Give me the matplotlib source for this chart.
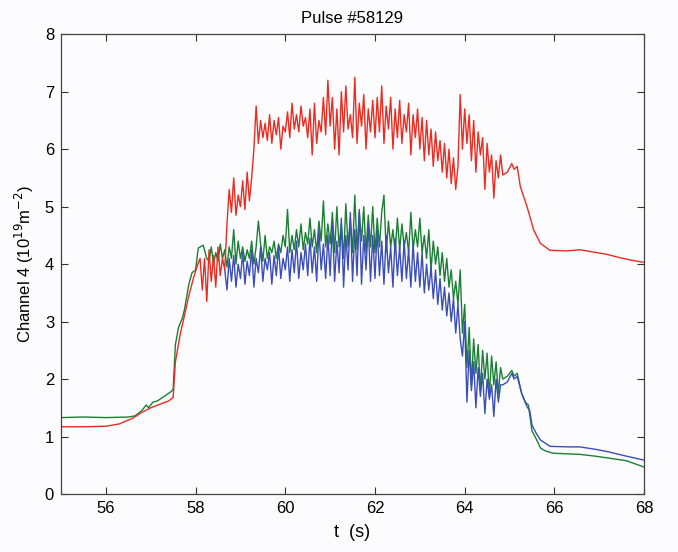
import numpy as np
import matplotlib
matplotlib.use('Agg')
import matplotlib.pyplot as plt

plt.rcParams['font.family'] = ['Liberation Sans', 'DejaVu Sans']

# red trace: smooth rise, noisy flat-top, smooth decay
red_t0 = [55.0, 55.5, 56.0, 56.3, 56.6, 56.8, 57.0, 57.2, 57.4, 57.5, 57.55, 57.65, 57.75, 57.85, 57.95, 58.05, 58.1]
red_y0 = [1.17, 1.17, 1.18, 1.22, 1.32, 1.42, 1.5, 1.56, 1.62, 1.68, 2.3, 2.75, 3.1, 3.45, 3.75, 4.0, 4.1]
red_noisy = [3.55, 4.1, 3.35, 4.25, 3.7, 4.15, 3.6, 4.3, 3.8, 4.1, 3.9,
             4.7, 5.3, 4.9, 5.5, 4.85, 5.2, 5.0, 5.45, 4.95, 5.6, 5.1, 5.5,
             6.0, 6.75, 6.1, 6.5, 6.2, 6.45, 6.15, 6.6, 6.1, 6.5, 6.25, 6.55, 6.0, 6.4,
             6.3, 6.65, 6.2, 6.8, 6.35, 6.6, 6.3, 6.75, 6.4, 6.55, 6.2, 6.7, 5.9, 6.8, 6.1, 6.5, 6.3, 6.9, 6.25, 7.2,
             6.4, 6.9, 6.0, 6.7, 5.9, 7.0, 6.3, 7.1, 6.35, 6.6, 6.2, 7.25, 6.1, 6.8, 6.4, 6.95, 6.0, 6.7, 6.3, 6.85,
             6.2, 6.9, 6.3, 7.1, 6.1, 6.75, 6.35, 6.9, 6.0, 6.7, 6.2, 6.85, 6.1, 6.6, 6.3, 6.8, 5.9, 6.6, 6.2, 6.7,
             6.0, 6.55, 5.8, 6.5, 5.9, 6.35, 5.7, 6.3, 5.8, 6.15, 5.6, 6.1, 5.5, 6.0, 5.4, 5.85, 5.3, 5.7,
             6.95, 6.0, 6.7, 6.1, 6.6, 5.8, 6.5, 5.6, 6.3, 5.9, 6.2, 5.3, 6.1, 5.6, 5.9, 5.15, 5.8, 5.5, 5.9]
red_t2 = [64.85, 64.95, 65.05, 65.1, 65.17, 65.24, 65.39, 65.54, 65.69, 65.9, 66.27, 66.57, 66.87, 67.17, 67.47, 67.77, 68.0]
red_y2 = [5.55, 5.6, 5.75, 5.65, 5.7, 5.35, 5.0, 4.59, 4.36, 4.24, 4.23, 4.25, 4.21, 4.17, 4.11, 4.06, 4.03]

# green trace
green_t0 = [55.0, 55.5, 56.0, 56.5, 56.65, 56.8, 56.9, 56.95, 57.05, 57.15, 57.3, 57.45, 57.5, 57.55, 57.62,
            57.7, 57.75, 57.85, 57.92, 58.0, 58.06, 58.17, 58.25]
green_y0 = [1.33, 1.34, 1.33, 1.34, 1.36, 1.45, 1.55, 1.5, 1.6, 1.62, 1.7, 1.78, 1.82, 2.6, 2.9,
            3.05, 3.2, 3.65, 3.85, 3.9, 4.28, 4.33, 4.1]
green_noisy = [4.05, 4.3, 4.0, 4.2, 4.05, 4.35, 4.1, 4.25, 3.95, 4.3, 4.1, 4.6, 4.0, 4.4,
               4.1, 4.3, 4.05, 4.25, 4.1, 4.4, 4.0, 4.3, 4.75, 4.35, 4.05, 4.5, 4.1, 4.3, 4.2, 4.4, 4.1, 4.35, 4.2, 4.5,
               4.3, 4.95, 4.2, 4.5, 4.25, 4.6, 4.3, 4.7, 4.25, 4.55, 4.35, 4.8, 4.3, 4.6, 4.2, 4.75, 4.4, 5.1, 4.3, 4.7,
               4.35, 4.9, 4.2, 5.0, 4.3, 4.7, 4.1, 5.05, 4.3, 4.8, 4.2, 5.2, 4.25, 4.9, 4.4, 5.0, 4.2, 4.85, 4.3, 5.0,
               4.2, 4.8, 4.3, 4.9, 5.2, 4.2, 4.75, 4.3, 4.6, 4.2, 4.8, 4.25, 4.7, 4.3, 4.55, 4.2, 4.9, 4.25, 4.6, 4.3,
               4.8, 4.2, 4.5, 4.1, 4.6, 3.9, 4.4, 4.0, 4.3, 3.8, 4.2, 3.7, 4.1, 3.6, 3.9, 3.4, 3.7, 3.3, 3.9, 2.8,
               3.3, 2.2, 2.9, 1.9, 2.7, 2.1, 2.6, 1.8, 2.5, 2.0, 2.45, 1.7, 2.4, 1.9, 2.3, 1.75, 2.2]
green_t2 = [64.85, 64.95, 65.05, 65.1, 65.17, 65.27, 65.35, 65.42, 65.5, 65.6, 65.69, 65.8, 65.97, 66.3, 66.57,
            66.9, 67.17, 67.6, 68.0]
green_y2 = [2.0, 2.05, 2.15, 2.05, 2.1, 1.75, 1.6, 1.55, 1.1, 0.95, 0.8, 0.75, 0.71, 0.7, 0.69,
            0.66, 0.63, 0.58, 0.47]

# blue trace
blue_noisy = [3.9, 3.55, 4.1, 3.7, 4.15, 3.6, 4.0,
              3.75, 4.2, 3.65, 4.05, 3.8, 4.25, 3.6, 4.1, 3.85, 4.3, 3.7, 4.1, 3.9, 4.2, 3.65, 4.15, 3.8, 4.3, 3.75, 4.1,
              3.9, 4.3, 3.7, 4.25, 3.85, 4.4, 3.75, 4.2, 3.9, 4.35, 3.8, 4.45, 3.85, 4.3, 3.7, 4.6, 3.9, 4.35, 3.75, 4.5,
              3.8, 4.7, 3.7, 4.4, 3.85, 4.8, 3.6, 4.5, 3.9, 4.9, 3.7, 4.6, 3.8, 4.95, 3.65, 4.5, 3.9, 4.7, 3.7, 4.5,
              3.75, 4.6, 3.8, 4.4, 3.65, 4.5, 3.85, 4.3, 3.6, 4.45, 3.8, 4.3, 3.7, 4.4, 3.75, 4.25, 3.6, 4.35, 3.7, 4.2,
              3.6, 4.2, 3.5, 4.0, 3.55, 3.95, 3.4, 3.9, 3.3, 3.75, 3.2, 3.6, 3.1, 3.5, 3.0, 3.4, 2.8, 3.3, 2.7, 2.4,
              3.0, 1.6, 2.5, 1.8, 2.3, 1.5, 2.2, 1.7, 2.1, 1.4, 2.0, 1.65, 1.9, 1.35, 2.0, 1.6, 1.9]
blue_t2 = [64.85, 64.95, 65.05, 65.1, 65.17, 65.27, 65.39, 65.45, 65.5, 65.6, 65.69, 65.9, 66.3, 66.57, 66.9,
           67.17, 67.6, 68.0]
blue_y2 = [1.9, 1.95, 2.1, 2.0, 2.05, 1.75, 1.52, 1.45, 1.2, 1.05, 0.94, 0.83, 0.82, 0.82, 0.78,
           0.74, 0.66, 0.59]

# sample times of the noisy parts (0.05 s spacing)
red_tn = np.linspace(58.15, 64.8, len(red_noisy))
green_tn = np.linspace(58.3, 64.8, len(green_noisy))
blue_tn = np.linspace(58.65, 64.8, len(blue_noisy))

red_t = np.concatenate([red_t0, red_tn, red_t2])
red_y = np.concatenate([red_y0, red_noisy, red_y2])
green_t = np.concatenate([green_t0, green_tn, green_t2])
green_y = np.concatenate([green_y0, green_noisy, green_y2])
blue_t = np.concatenate([blue_tn, blue_t2])
blue_y = np.concatenate([blue_noisy, blue_y2])

bg = '#fcfcfe'
fig = plt.figure(figsize=(6.78, 5.52), dpi=100, facecolor=bg)
ax = fig.add_axes([0.090, 0.105, 0.860, 0.833], facecolor=bg)

ax.plot(green_t, green_y, color='#1b7f33', lw=1.0)
ax.plot(blue_t, blue_y, color='#3a4db8', lw=1.0)
ax.plot(red_t, red_y, color='#ec2b20', lw=1.0)

ax.set_xlim(55, 68)
ax.set_ylim(0, 8)
ax.set_xticks([56, 58, 60, 62, 64, 66, 68])
ax.set_yticks(range(0, 9))
ax.tick_params(direction='in', top=True, right=True, length=5, width=0.8,
               labelsize=12, color='#333333', pad=5)
for s in ax.spines.values():
    s.set_color('#444444')
    s.set_linewidth(0.9)

ax.set_title('Pulse #58129', fontsize=12, pad=8)
ax.set_xlabel('t  (s)', fontsize=13, labelpad=6)
ax.set_ylabel('Channel 4 (10$^{19}$m$^{-2}$)', fontsize=12, labelpad=6)

fig.savefig('out.png', dpi=100, facecolor=bg)
